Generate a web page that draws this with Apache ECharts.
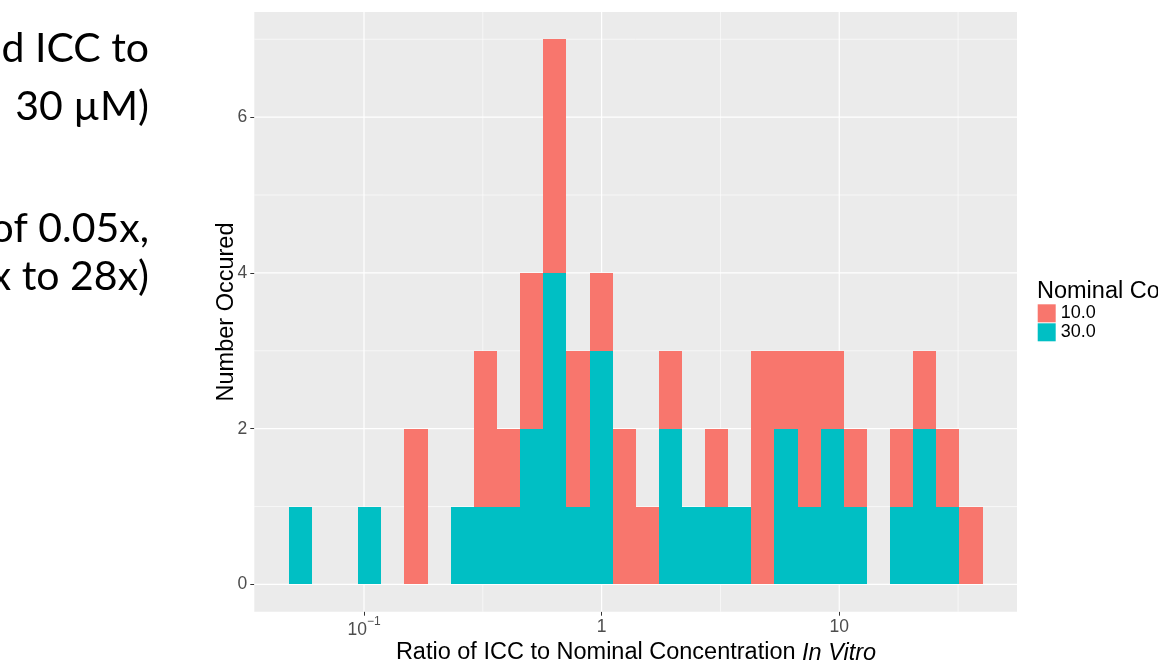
<!DOCTYPE html>
<html lang="en">
<head>
    <meta charset="utf-8">
    <title>Ratio of ICC to Nominal Concentration</title>
    <script src="https://cdn.jsdelivr.net/npm/echarts@6/dist/echarts.min.js"></script>
    <style>
        body { margin: 0; background: #fff; }
    </style>
</head>
<body>
<div id="hist" style="width: 1158px;height:660px;"></div>

<script>
    // histogram bins, in log10 of the ratio (30 bins)
    let binEdges = [-1.316, -1.219, -1.121, -1.024, -0.927, -0.830, -0.732, -0.635, -0.538, -0.440,
        -0.343, -0.246, -0.148, -0.051, 0.046, 0.144, 0.241, 0.338, 0.435, 0.533,
        0.630, 0.727, 0.825, 0.922, 1.019, 1.117, 1.214, 1.311, 1.408, 1.506, 1.603];
    // counts per bin for each nominal concentration
    let count30 = [1, 0, 0, 1, 0, 0, 0, 1, 1, 1, 2, 4, 1, 3, 0, 0, 2, 1, 1, 1, 0, 2, 1, 2, 1, 0, 1, 2, 1, 0];
    let count10 = [0, 0, 0, 0, 0, 2, 0, 0, 2, 1, 2, 3, 2, 1, 2, 1, 1, 0, 1, 0, 3, 1, 2, 1, 1, 0, 1, 1, 1, 1];
    let seriesNames = ['10.0', '30.0'];

    // axis breaks (log10 space for x)
    let xBreaks = [-1, 0, 1];
    let xBreakLabels = [['10', '−1'], ['1', ''], ['10', '']];
    let xMinor = [-0.5, 0.5, 1.5];
    let yBreaks = [0, 2, 4, 6];
    let yMinor = [1, 3, 5, 7];

    let slideLines = ['d ICC to', '30 µM)', 'of 0.05x,', 'x to 28x)'];

    let font = 'Liberation Sans, Arial, sans-serif';
    let myChart = echarts.init(document.getElementById('hist'));

    // rectangles: [x0, x1, base, top]
    let teal = [], red = [];
    for (let i = 0; i < count30.length; i++) {
        teal.push([binEdges[i], binEdges[i + 1], 0, count30[i]]);
        red.push([binEdges[i], binEdges[i + 1], count30[i], count30[i] + count10[i]]);
    }

    function renderRect(params, api) {
        if (api.value(3) <= api.value(2)) return null;
        let p0 = api.coord([api.value(0), api.value(3)]);
        let p1 = api.coord([api.value(1), api.value(2)]);
        // snap to whole pixels so neighbouring bins join without seams
        let x0 = Math.round(p0[0]), x1 = Math.round(p1[0]);
        let y0 = Math.round(p0[1]), y1 = Math.round(p1[1]);
        return {
            type: 'rect',
            shape: {x: x0, y: y0, width: x1 - x0, height: y1 - y0},
            style: {fill: api.visual('color')}
        };
    }

    // all panel grid lines drawn as one group
    function renderGrid(params, api) {
        let cs = params.coordSys;
        let kids = [];
        let addV = (v, w) => {
            let x = api.coord([v, 0])[0];
            kids.push({type: 'line', shape: {x1: x, y1: cs.y, x2: x, y2: cs.y + cs.height},
                style: {stroke: '#ffffff', lineWidth: w}});
        };
        let addH = (v, w) => {
            let y = api.coord([0, v])[1];
            kids.push({type: 'line', shape: {x1: cs.x, y1: y, x2: cs.x + cs.width, y2: y},
                style: {stroke: '#ffffff', lineWidth: w}});
        };
        xMinor.forEach(v => addV(v, 0.6));
        yMinor.forEach(v => addH(v, 0.6));
        xBreaks.forEach(v => addV(v, 1.2));
        yBreaks.forEach(v => addH(v, 1.2));
        return {type: 'group', children: kids};
    }

    let graphics = slideLines.map((t, i) => ({
        type: 'text',
        x: 149,
        y: [49, 107, 229, 277][i],
        style: {text: t, font: '41px Lato, "Open Sans", sans-serif', fill: '#000',
            align: 'right', verticalAlign: 'middle'}
    }));
    graphics.push({
        type: 'text', x: 227, y: 312, rotation: Math.PI / 2,
        style: {text: 'Number Occured', fontSize: 23.5, fontFamily: font, fill: '#000',
            align: 'center', verticalAlign: 'middle'}
    });
    graphics.push({
        type: 'text', x: 636, y: 653,
        style: {
            text: '{n|Ratio of ICC to Nominal Concentration }{i|In Vitro}',
            align: 'center', verticalAlign: 'middle',
            rich: {
                n: {fontSize: 23.5, fontFamily: font, color: '#000'},
                i: {fontSize: 23.5, fontFamily: font, fontStyle: 'italic', color: '#000'}
            }
        }
    });
    graphics.push({
        type: 'text', x: 1037, y: 291.5,
        style: {text: 'Nominal Co', fontSize: 23.5, fontFamily: font, fill: '#000',
            align: 'left', verticalAlign: 'middle'}
    });

    let option = {
        animation: false,
        textStyle: {fontFamily: font},
        grid: {
            left: 254.3, right: 141, top: 12, bottom: 48.3,
            show: true, backgroundColor: '#EBEBEB', borderWidth: 0
        },
        legend: {
            data: seriesNames,
            orient: 'vertical',
            left: 1037.7, top: 304.3,
            padding: 0,
            itemWidth: 18, itemHeight: 18, itemGap: 1,
            icon: 'rect',
            textStyle: {fontSize: 18, color: '#000', fontFamily: font}
        },
        xAxis: {
            type: 'value',
            min: -1.4617, max: 1.748,
            axisLine: {show: false, onZero: false},
            splitLine: {show: false},
            axisTick: {show: true, customValues: xBreaks, length: 4, lineStyle: {color: '#333333'}},
            axisLabel: {
                customValues: xBreaks,
                margin: 7,
                verticalAlign: 'top',
                formatter: function (v) {
                    let lab = xBreakLabels[xBreaks.indexOf(v)];
                    if (!lab[1]) return '{p|' + lab[0] + '}';
                    return '{e|' + lab[0] + '}{s|' + lab[1] + '}';
                },
                rich: {
                    p: {fontSize: 17.5, fontFamily: font, color: '#4D4D4D', lineHeight: 17},
                    e: {fontSize: 17.5, fontFamily: font, color: '#4D4D4D', lineHeight: 17,
                        padding: [6, 0, 0, 0]},
                    s: {fontSize: 12, fontFamily: font, color: '#4D4D4D', lineHeight: 12,
                        padding: [0, 0, 11, 0]}
                }
            }
        },
        yAxis: {
            type: 'value',
            min: -0.35, max: 7.35,
            axisLine: {show: false, onZero: false},
            splitLine: {show: false},
            axisTick: {show: true, customValues: yBreaks, length: 4, lineStyle: {color: '#333333'}},
            axisLabel: {customValues: yBreaks, margin: 7, color: '#4D4D4D', fontSize: 17.5, fontFamily: font}
        },
        series: [
            {
                name: 'grid',
                type: 'custom',
                silent: true,
                renderItem: renderGrid,
                encode: {x: 0, y: 1},
                data: [[0, 0]],
                z: 1
            },
            {
                name: '10.0',
                type: 'custom',
                renderItem: renderRect,
                itemStyle: {color: '#F8766D'},
                encode: {x: [0, 1], y: [2, 3]},
                data: red,
                z: 2
            },
            {
                name: '30.0',
                type: 'custom',
                renderItem: renderRect,
                itemStyle: {color: '#00BFC4'},
                encode: {x: [0, 1], y: [2, 3]},
                data: teal,
                z: 2
            }
        ],
        graphic: graphics
    };
    myChart.setOption(option);
</script>
</body>
</html>
